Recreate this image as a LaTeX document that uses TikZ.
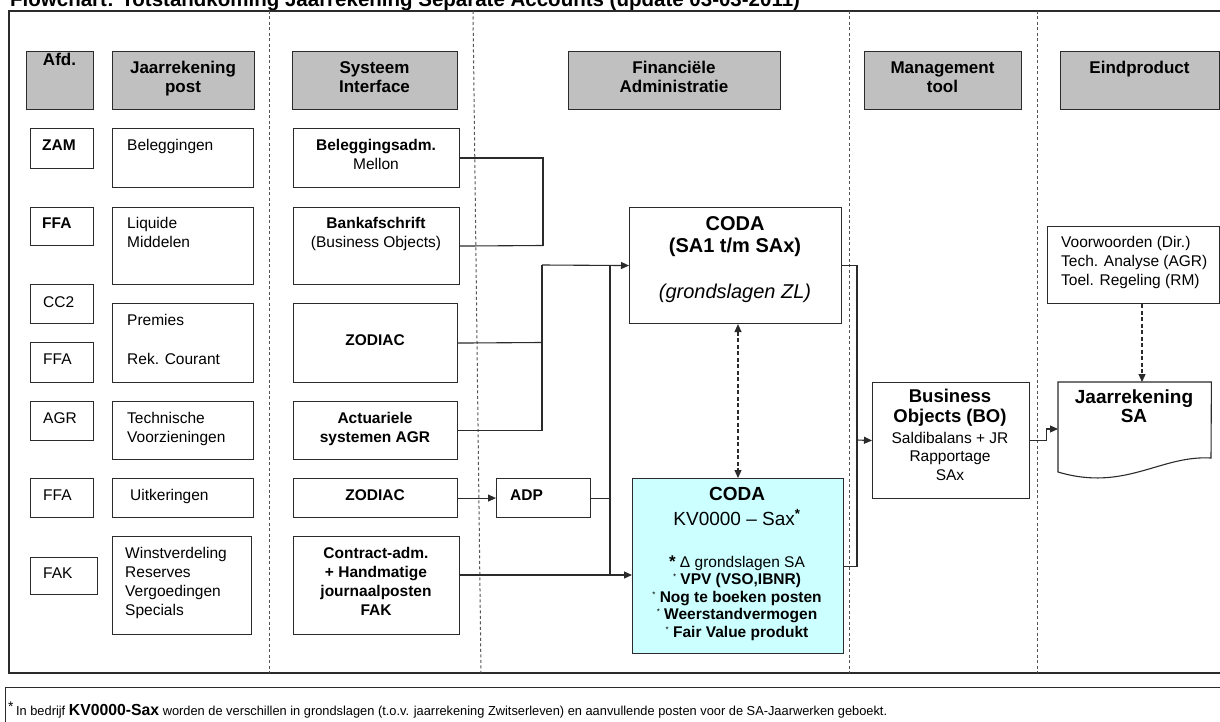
\documentclass[tikz,border=0pt]{standalone}
\usepackage{fontspec}
\usepackage{graphicx}
\setmainfont{Liberation Sans}
\usetikzlibrary{arrows.meta}
\definecolor{hdrgray}{HTML}{C0C0C0}
\definecolor{kvcyan}{HTML}{CCFFFF}
\definecolor{edgec}{HTML}{2B2B2B}
\definecolor{dashgray}{HTML}{555555}
\newcommand\ml[2][c]{\begin{tabular}[t]{@{}#1@{}}#2\end{tabular}}
\newcommand\sast{{\fontsize{8}{8}\selectfont\raisebox{5pt}{*}}}
\newcommand\fn{\fontsize{15.5}{19}\selectfont}
\newcommand\fh{\fontsize{17}{19}\selectfont\bfseries}
\newcommand\fcoda{\fontsize{20}{22}\selectfont\bfseries}
\newcommand\ftitle{\fontsize{20.5}{22}\selectfont\bfseries}
\begin{document}
\begin{tikzpicture}[x=1pt,y=-1pt,
  box/.style={draw=edgec, line width=1.1pt, inner sep=0pt, anchor=north west},
  hdr/.style={box, fill=hdrgray},
  txt/.style={inner sep=0pt, anchor=base, font=\fn},
  txtl/.style={inner sep=0pt, anchor=base west, font=\fn},
  conn/.style={draw=edgec, line width=1.1pt},
  arr/.style={conn, -{Triangle[length=8pt,width=7pt]}},
  seprule/.style={draw=dashgray, line width=1pt, dash pattern=on 3pt off 2.5pt},
  dasharr/.style={conn, dash pattern=on 4pt off 2.5pt, {Triangle[length=8pt,width=7pt]}-{Triangle[length=8pt,width=7pt]}},
  dasharrone/.style={conn, dash pattern=on 4pt off 2.5pt, -{Triangle[length=8pt,width=7pt]}}]
\useasboundingbox (0,0) rectangle (1220,722);
\fill[white] (0,0) rectangle (1220,722);

% title (cut at top)
\node[txtl, font=\ftitle] (title) at (10,7) {Flowchart: Totstandkoming Jaarrekening Separate Accounts (update 03-03-2011)};

% outer frame
\draw[draw=edgec, line width=1.2pt] (9,11) rectangle (1240,673);

% separators
\draw[seprule] (269,11) -- (269,673);
\draw[seprule] (473,11) -- (481,673);
\draw[seprule] (849,11) -- (849,673);
\draw[seprule] (1037,11) -- (1037,673);

% headers
\node[hdr, minimum width=67, minimum height=58] (hAfd) at (26,51) {};
\node[hdr, minimum width=142, minimum height=58] (hPost) at (112,51) {};
\node[hdr, minimum width=165, minimum height=58] (hSys) at (292,51) {};
\node[hdr, minimum width=212, minimum height=58] (hFin) at (568,51) {};
\node[hdr, minimum width=157, minimum height=58] (hMan) at (864,51) {};
\node[hdr, minimum width=159, minimum height=58] (hEnd) at (1060,51) {};
\node[txt, font=\fh] (thAfd) at (59.5,66) {Afd.};
\node[txt, font=\fh] (thPost) at (183,74) {\ml{Jaarrekening\\post}};
\node[txt, font=\fh] (thSys) at (374.5,74) {\ml{Systeem\\Interface}};
\node[txt, font=\fh] (thFin) at (674,74) {\ml{Financiële\\Administratie}};
\node[txt, font=\fh] (thMan) at (942.5,74) {\ml{Management\\tool}};
\node[txt, font=\fh] (thEnd) at (1139.5,74) {Eindproduct};

% Afd column
\node[box, minimum width=63, minimum height=40] (a1) at (30,128) {};
\node[box, minimum width=63, minimum height=38] (a2) at (30,207) {};
\node[box, minimum width=63, minimum height=39] (a3) at (30,284) {};
\node[box, minimum width=63, minimum height=40] (a4) at (30,342) {};
\node[box, minimum width=63, minimum height=39] (a5) at (30,401) {};
\node[box, minimum width=63, minimum height=39] (a6) at (30,478) {};
\node[box, minimum width=67, minimum height=37] (a7) at (30,557) {};
\node[txtl, font=\fn\bfseries] (ta1) at (42,151) {ZAM};
\node[txtl, font=\fn\bfseries] (ta2) at (42,228) {FFA};
\node[txtl] (ta3) at (43,307) {CC2};
\node[txtl] (ta4) at (43,364) {FFA};
\node[txtl] (ta5) at (43,423) {AGR};
\node[txtl] (ta6) at (43,500) {FFA};
\node[txtl] (ta7) at (43,578) {FAK};

% Jaarrekening post column
\node[box, minimum width=141, minimum height=59] (p1) at (112,128) {};
\node[box, minimum width=141, minimum height=77] (p2) at (112,207) {};
\node[box, minimum width=141, minimum height=79] (p3) at (112,303) {};
\node[box, minimum width=141, minimum height=58] (p4) at (112,401) {};
\node[box, minimum width=141, minimum height=39] (p5) at (112,478) {};
\node[box, minimum width=139, minimum height=98] (p6) at (112,536) {};
\node[txtl] (tp1) at (127,151) {Beleggingen};
\node[txtl] (tp2) at (127,229) {\ml[l]{Liquide\\Middelen}};
\node[txtl] (tp3a) at (127,325) {Premies};
\node[txtl] (tp3b) at (127,364) {Rek. Courant};
\node[txtl] (tp4) at (127,423) {\ml[l]{Technische\\Voorzieningen}};
\node[txtl] (tp5) at (130,500) {Uitkeringen};
\node[txtl] (tp6) at (125,558) {\ml[l]{Winstverdeling\\Reserves\\Vergoedingen\\Specials}};

% Systeem Interface column
\node[box, minimum width=166, minimum height=59] (s1) at (293,128) {};
\node[box, minimum width=166, minimum height=77] (s2) at (293,207) {};
\node[box, minimum width=164, minimum height=79] (s3) at (293,303) {};
\node[box, minimum width=164, minimum height=58] (s4) at (293,401) {};
\node[box, minimum width=164, minimum height=39] (s5) at (293,478) {};
\node[box, minimum width=166, minimum height=98] (s6) at (293,536) {};
\node[txt] (ts1) at (376,151) {\ml{\bfseries Beleggingsadm.\\Mellon}};
\node[txt] (ts2) at (376,229) {\ml{\bfseries Bankafschrift\\(Business Objects)}};
\node[txt, font=\fn\bfseries] (ts3) at (375,345) {ZODIAC};
\node[txt, font=\fn\bfseries] (ts4) at (375,423) {\ml{Actuariele\\systemen AGR}};
\node[txt, font=\fn\bfseries] (ts5) at (375,500) {ZODIAC};
\node[txt, font=\fn\bfseries] (ts6) at (376,558) {\ml{Contract-adm.\\+ Handmatige\\journaalposten\\FAK}};

% ADP
\node[box, minimum width=94, minimum height=39] (adp) at (496,478) {};
\node[txtl, font=\fn\bfseries] (tadp) at (510,500) {ADP};

% CODA boxes
\node[box, minimum width=212, minimum height=116] (coda1) at (629,207) {};
\node[txt, font=\fcoda] (tc1) at (735,230) {\ml{CODA\\(SA1 t/m SAx)}};
\node[txt, font=\fontsize{20}{22}\selectfont\itshape] (tc1b) at (735,298) {(grondslagen ZL)};
\node[box, fill=kvcyan, minimum width=211, minimum height=175] (coda2) at (632,478) {};
\node[txt, font=\fontsize{19}{25}\selectfont] (tc2) at (737,500) {\ml{\bfseries CODA\\KV0000 – Sax\textsuperscript{\bfseries *}}};
\node[txt, font=\fontsize{15.5}{17.5}\selectfont] (tc2b) at (737,567) {\ml{{\bfseries\fontsize{17}{17}\selectfont *}\ Δ grondslagen SA\\
  \sast\ \bfseries VPV (VSO,IBNR)\\
  \sast\ \bfseries Nog te boeken posten\\
  \sast\ \bfseries Weerstandvermogen\\
  \sast\ \bfseries Fair Value produkt}};

% Business Objects
\node[box, minimum width=157, minimum height=116] (bo) at (872,382) {};
\node[txt, font=\fontsize{18.5}{20}\selectfont\bfseries] (tbo) at (950,402) {\ml{Business\\Objects (BO)}};
\node[txt, font=\fontsize{15.5}{18.5}\selectfont] (tbo2) at (950,443) {\ml{Saldibalans + JR\\Rapportage\\SAx}};

% Voorwoorden
\node[box, minimum width=172, minimum height=77] (vw) at (1047,226) {};
\node[txtl] (tvw) at (1061,247) {\ml[l]{Voorwoorden (Dir.)\\Tech. Analyse (AGR)\\Toel. Regeling (RM)}};

% Jaarrekening SA document
\node[inner sep=0pt, minimum width=153, minimum height=90, anchor=north west] (doc) at (1058,382) {};
\draw[conn] (doc.north west) -- (doc.north east) -- (1211,458) .. controls (1160,455) and (1125,492) .. (1058,472) -- cycle;
\node[txt, font=\fontsize{19}{19}\selectfont\bfseries] (tdoc) at (1134,403) {\ml{Jaarrekening\\SA}};

% connectors
\coordinate (b1) at (543,245.5);
\draw[conn] (s1.east) -| (b1);
\draw[conn] (s2.east) -- (b1);
\coordinate (b2) at (542,265);
\coordinate (b3) at (542,342.5);
\draw[conn] (s4.east) -| (b2);
\draw[conn] (s3.east) -- (b3);
\draw[conn, line width=2pt] (b2) -- (b3);
\draw[arr] (b2) -- (coda1.west);

\coordinate (v1) at (610,265);
\coordinate (v2) at (610,575);
\draw[conn] (adp.east) -- (adp.east -| v1);
\draw[conn] (v1) -- (v2);
\draw[arr] (s5.east) -- (adp.west);
\draw[arr] (s6.east |- v2) -- (coda2.west |- v2);

\coordinate (dx) at (738,0);
\draw[dasharr] (coda1.south -| dx) -- (coda2.north -| dx);

\coordinate (r1) at (857,440);
\draw[conn] (coda1.east) -| (r1);
\draw[conn] (coda2.east) -| (r1);
\draw[arr] (r1) -- (bo.west);

\coordinate (docin) at (1058,429);
\draw[arr] (bo.east) -- ++(16,0) |- (docin);

\coordinate (dx2) at (1142,0);
\draw[dasharrone] (vw.south -| dx2) -- (doc.north -| dx2);

% footnote
\node[box, minimum width=1240, minimum height=60] (foot) at (5,687) {};
\node[txtl] (tfoot) at (8,715) {\resizebox{879pt}{\height}{{\fontsize{14}{14}\selectfont\raisebox{4pt}{*}}\,{\fontsize{13}{15}\selectfont In bedrijf }{\fontsize{16}{16}\selectfont\bfseries KV0000-Sax}{\fontsize{13}{15}\selectfont\ worden de verschillen in grondslagen (t.o.v. jaarrekening Zwitserleven) en aanvullende posten voor de SA-Jaarwerken geboekt.}}};
\end{tikzpicture}
\end{document}
